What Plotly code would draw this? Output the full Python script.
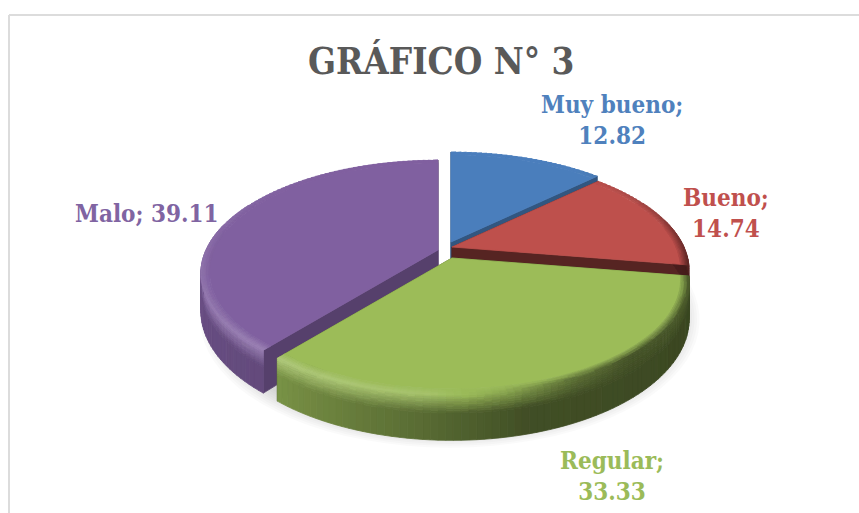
import numpy as np
import plotly.graph_objects as go

# ---- data ----
categories = ["Muy bueno", "Bueno", "Regular", "Malo"]
values = [12.82, 14.74, 33.33, 39.11]
title_text = "GRÁFICO N° 3"

# ---- style ----
top_colors = [(74, 126, 187), (190, 79, 76), (155, 187, 89), (127, 95, 159)]
label_colors = ["#4F81BD", "#C0504D", "#9BBB59", "#8064A2"]
label_lines = [(612, 120, 1), (726, 213, 1), (612, 476, 1), (147, 213, 0)]  # x, y, wrapped?
offsets = [(4, -7), (5, -2), (5, 9), (-9, 1)]
CX, CY, RX, RY, P, H = 447, 249, 232, 108.6, 0.207, 36
FONT = "DejaVu Serif Condensed, DejaVu Serif, serif"

SIDE_A = [0, 90, 110, 140, 165, 190, 219, 270, 360]
SIDE_F = [.5, .38, .38, .40, .42, .6, .78, .85, .8]
RIM_A = [0, 40, 70, 99, 140, 155, 170, 185, 219, 260, 300, 360]
RIM_F = [1, 1, .8, .5, .45, .6, .9, 1.1, 1.2, 1.12, 1.03, 1]


def shade(c, f):
    if f <= 1:
        return tuple(v * f for v in c)
    return tuple(v + (255 - v) * (f - 1) for v in c)


def mix(a, b, t):
    return tuple(x + (y - x) * t for x, y in zip(a, b))


def hexc(c):
    return "#%02x%02x%02x" % tuple(int(min(255, max(0, round(v / 2) * 2))) for v in c)


def proj(phi, r, off, drop=0.0):
    """Perspective view of a flat disc; phi in degrees clockwise from the back."""
    a = np.radians(phi)
    s = 1 / (1 + P * r * np.cos(a))
    return (CX + off[0] + RX * r * np.sin(a) * s,
            CY + off[1] - RY * r * np.cos(a) * s + drop * H * s)


fig = go.Figure()


def add_poly(xs, ys, color, opacity=1.0, lw=0.8):
    fig.add_trace(go.Scatter(
        x=xs, y=ys, mode="lines", fill="toself", fillcolor=color, opacity=opacity,
        line=dict(color=color, width=lw), hoverinfo="skip", showlegend=False))


def add_group(groups):
    for col, (xs, ys) in groups.items():
        add_poly(xs, ys, col)


def add_quad(groups, pts, color):
    key = hexc(color)
    xs, ys = groups.setdefault(key, ([], []))
    for p in pts + [pts[0]]:
        xs.append(p[0])
        ys.append(p[1])
    xs.append(None)
    ys.append(None)


# soft shadow below the front of the pie
grid = np.arange(80, 281, 4)
for k, grow in enumerate(np.linspace(1.05, 0.97, 9)):
    sx, sy = [], []
    for g in grid:
        x, y = proj(g, grow, (3, 3), 1.0)
        sx.append(x)
        sy.append(y + 4)
    add_poly(sx + sx[:1], sy + sy[:1], "#7f7f7f", opacity=0.04, lw=0)

# slices
edges = np.concatenate([[0], np.cumsum(values)]) / sum(values) * 360
STEP = 1.5
for i in [0, 1, 3, 2]:
    a0, a1 = edges[i], edges[i + 1]
    off = offsets[i]
    base = top_colors[i]
    angs = np.linspace(a0, a1, max(3, int((a1 - a0) / STEP) + 1))

    # cut faces
    for a in (a0, a1):
        pts = [proj(a, 0, off), proj(a, 1, off), proj(a, 1, off, 1), proj(a, 0, off, 1)]
        xs = [p[0] for p in pts] + [pts[0][0]]
        ys = [p[1] for p in pts] + [pts[0][1]]
        add_poly(xs, ys, hexc(shade(base, 0.68 if i in (0, 3) else 0.45)))

    # outer wall: only the part that faces the viewer
    groups = {}
    tb = np.array([0, .05, .1, .15, .2, .25, .3, .35, .4, 1.0])
    for u, v in zip(angs[:-1], angs[1:]):
        m = (u + v) / 2
        if m < 75 or m > 285:
            continue
        side = shade(base, np.interp(m, SIDE_A, SIDE_F))
        rim = shade(base, np.interp(m, RIM_A, RIM_F))
        for t0, t1 in zip(tb[:-1], tb[1:]):
            col = mix(rim, side, min(1, ((t0 + t1) / 2) / .4))
            add_quad(groups, [proj(u, 1, off, t0), proj(v, 1, off, t0),
                              proj(v, 1, off, t1), proj(u, 1, off, t1)], col)
    add_group(groups)

    # flat top
    inner = 0.965
    xs, ys = [proj(0, 0, off)[0]], [proj(0, 0, off)[1]]
    for a in angs:
        p = proj(a, inner, off)
        xs.append(p[0])
        ys.append(p[1])
    xs.append(xs[0])
    ys.append(ys[0])
    add_poly(xs, ys, hexc(base))

    # bevelled rim
    groups = {}
    nb = 6
    rb = np.linspace(inner, 1, nb + 1)
    for u, v in zip(angs[:-1], angs[1:]):
        m = (u + v) / 2
        rim = shade(base, np.interp(m, RIM_A, RIM_F))
        for j, (r0, r1) in enumerate(zip(rb[:-1], rb[1:])):
            col = mix(base, rim, (j + 1) / nb)
            add_quad(groups, [proj(u, r0, off), proj(v, r0, off),
                              proj(v, r1, off), proj(u, r1, off)], col)
    add_group(groups)

# labels
for cat, val, col, (x, y, wrap) in zip(categories, values, label_colors, label_lines):
    sep = "<br>" if wrap else " "
    fig.add_annotation(x=x, y=y, text=f"<b>{cat};{sep}{val:.2f}</b>", showarrow=False,
                       font=dict(family=FONT, size=24, color=col), align="center",
                       xanchor="center", yanchor="middle")

fig.add_annotation(x=441, y=61, text=f"<b>{title_text}</b>", showarrow=False,
                   font=dict(family=FONT, size=36.5, color="#595959"),
                   xanchor="center", yanchor="middle")

# chart frame (top and left edges visible in the crop)
for x0, y0, x1, y1 in [(9, 15, 859, 15), (9, 15, 9, 513)]:
    fig.add_shape(type="line", x0=x0, y0=y0, x1=x1, y1=y1,
                  line=dict(color="#dcdcdc", width=2))

fig.update_layout(
    width=859, height=513, margin=dict(l=0, r=0, t=0, b=0),
    paper_bgcolor="white", plot_bgcolor="white", showlegend=False,
    xaxis=dict(range=[0, 859], visible=False, fixedrange=True),
    yaxis=dict(range=[513, 0], visible=False, fixedrange=True),
)
fig.write_html("out.html", config=dict(displayModeBar=False),
               post_script="document.body.style.margin='0';document.body.style.overflow='hidden';")
